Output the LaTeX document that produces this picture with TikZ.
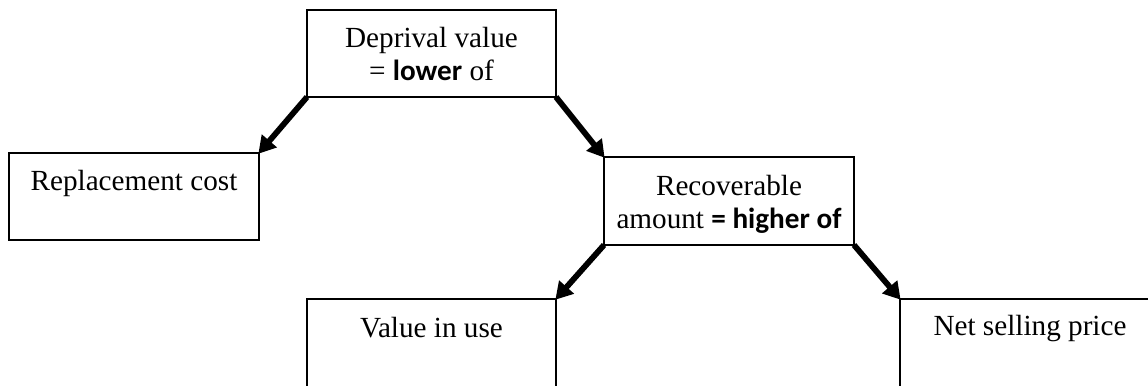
\documentclass[tikz,border=0pt]{standalone}
\usepackage{fontspec}
\setmainfont{Liberation Serif}
\newfontfamily\calfont{Carlito}
\usetikzlibrary{arrows.meta}
\begin{document}
\begin{tikzpicture}[x=0.5pt,y=-0.5pt,
  box/.style={draw, line width=1pt, inner sep=0pt, outer sep=0pt, anchor=north west},
  lbl/.style={anchor=base, align=center, inner sep=0pt, font=\fontsize{14.6}{16.5}\selectfont},
  conn/.style={line width=2.9pt, -{Triangle[length=8.5pt,width=9.5pt]}, shorten >=-0.5pt}]
\useasboundingbox (0,0) rectangle (1148,386);
\clip (0,0) rectangle (1148,386);
\fill[white] (0,0) rectangle (1148,386);
\node[box, minimum width=124.5pt, minimum height=43.5pt] (top) at (307,10) {};
\node[box, minimum width=125pt, minimum height=43.5pt] (rep) at (9,153) {};
\node[box, minimum width=125pt, minimum height=44pt] (rec) at (604,157) {};
\node[box, minimum width=124.5pt, minimum height=60pt] (viu) at (307,299) {};
\node[box, minimum width=140pt, minimum height=60pt] (nsp) at (900,299) {};
\node[lbl] (toptxt) at (431.5,80) {Deprival value\\= {\calfont\bfseries lower} of};
\node[lbl] (reptxt) at (134,190) {Replacement cost};
\node[lbl] (rectxt) at (729,228) {Recoverable\\amount {\calfont\bfseries = higher of}};
\node[lbl] (viutxt) at (431.5,337) {Value in use};
\node[lbl] (nsptxt) at (1030,335) {Net selling price};
\draw[conn] (top.south west) -- (rep.north east);
\draw[conn] (top.south east) -- (rec.north west);
\draw[conn] (rec.south west) -- (viu.north east);
\draw[conn] (rec.south east) -- (nsp.north west);
\end{tikzpicture}
\end{document}
